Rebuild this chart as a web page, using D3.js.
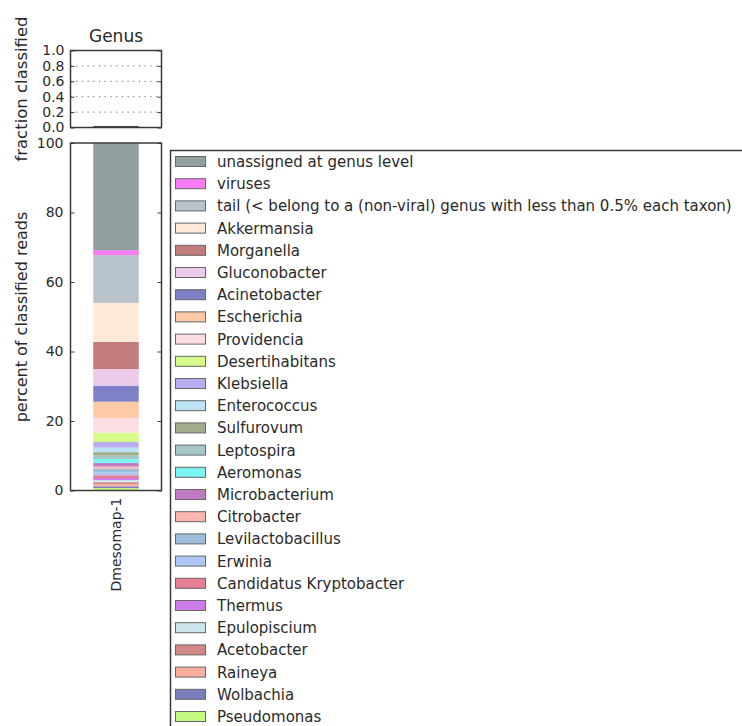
<!DOCTYPE html>
<html><head><meta charset="utf-8">
<script src="https://cdn.jsdelivr.net/npm/d3@7"></script>
<style>body{margin:0;background:#fff;} svg{display:block;font-family:"DejaVu Sans",sans-serif;}</style>
</head><body>
<svg id="c" width="742" height="726"></svg>
<script>
const samples = ["Dmesomap-1"];
const fractionClassified = [0.02];
const taxa = ["unassigned at genus level","viruses","tail (< belong to a (non-viral) genus with less than 0.5% each taxon)","Akkermansia","Morganella","Gluconobacter","Acinetobacter","Escherichia","Providencia","Desertihabitans","Klebsiella","Enterococcus","Sulfurovum","Leptospira","Aeromonas","Microbacterium","Citrobacter","Levilactobacillus","Erwinia","Candidatus Kryptobacter","Thermus","Epulopiscium","Acetobacter","Raineya","Wolbachia","Pseudomonas"];
const percents = [30.8,1.4,13.8,11.2,7.8,4.8,4.6,4.7,4.2,2.7,1.6,1.3,1.0,1.0,1.15,1.0,0.6,1.15,0.75,0.8,0.6,0.6,0.6,0.6,0.5,0.7];
const colors = ["#91a09f","#f77cf5","#b9c3cc","#ffe9d9","#c27c7b","#ebcaea","#7e80c8","#fccba5","#fddde4","#d7fb8b","#b9acf0","#bce3f3","#a3ad8c","#a7c6c6","#7ef5f5","#bf7cc3","#fab6ae","#9dbfdc","#adc8f5","#e87e94","#cd7ce8","#cde6ee","#d18888","#fcae9f","#7b7dbd","#c5fb83"];
const topTicks = [0.0,0.2,0.4,0.6,0.8,1.0];
const mainTicks = [0,20,40,60,80,100];

const svg = d3.select("#c");
const spine = "#3a3a3a";
const txt = "#2a2a2a";
const axL = 70.5, axR = 161.5;

// top panel
const ty = d3.scaleLinear().domain([0,1]).range([127.5,50.5]);
const tx = d3.scaleBand().domain(samples).range([axL,axR]).paddingInner(0).paddingOuter(0.5);
const topG = svg.append("g");
topTicks.forEach(t=>{
  if(t>0 && t<1) topG.append("line").attr("x1",axL).attr("x2",axR).attr("y1",ty(t)).attr("y2",ty(t))
    .attr("stroke","#666").attr("stroke-width",1).attr("stroke-dasharray","1.2,4.5");
});
topG.selectAll("rect.f").data(samples).enter().append("rect")
  .attr("x",d=>tx(d)).attr("width",tx.bandwidth())
  .attr("y",(d,i)=>ty(fractionClassified[i])).attr("height",(d,i)=>ty(0)-ty(fractionClassified[i]))
  .attr("fill","#4a4a4a");
const tl = topG.append("g").attr("transform",`translate(${axL},0)`)
  .call(d3.axisLeft(ty).tickValues(topTicks).tickFormat(d3.format(".1f")).tickSizeInner(-4).tickSizeOuter(0).tickPadding(6));
const tr = topG.append("g").attr("transform",`translate(${axR},0)`)
  .call(d3.axisRight(ty).tickValues(topTicks).tickFormat("").tickSizeInner(-4).tickSizeOuter(0));
[tl,tr].forEach(g=>{g.select(".domain").remove(); g.selectAll("line").attr("stroke",spine);
  g.selectAll("text").attr("font-size",14).attr("fill",txt).attr("font-family","DejaVu Sans");});
topG.append("rect").attr("x",axL).attr("y",50.5).attr("width",axR-axL).attr("height",77)
  .attr("fill","none").attr("stroke",spine).attr("stroke-width",1.5);
svg.append("text").attr("x",116).attr("y",42).attr("text-anchor","middle").attr("font-size",17).attr("fill",txt).text("Genus");
svg.append("text").attr("transform","translate(27,89) rotate(-90)").attr("text-anchor","middle").attr("font-size",16.5).attr("fill",txt).text("fraction classified");

// main panel
const y = d3.scaleLinear().domain([0,100]).range([490.5,143]);
const x = d3.scaleBand().domain(samples).range([axL,axR]).paddingInner(0).paddingOuter(0.5);
const stackRows = [Object.fromEntries(taxa.map((t,i)=>[t,percents[i]]))];
const series = d3.stack().keys(taxa.slice().reverse())(stackRows);
const mainG = svg.append("g");
series.forEach(s=>{
  const i = taxa.indexOf(s.key);
  mainG.append("rect").attr("x",x(samples[0])).attr("width",x.bandwidth())
    .attr("y",y(s[0][1])).attr("height",y(s[0][0])-y(s[0][1]))
    .attr("fill",colors[i]);
});
const ml = mainG.append("g").attr("transform",`translate(${axL},0)`)
  .call(d3.axisLeft(y).tickValues(mainTicks).tickSizeInner(-4).tickSizeOuter(0).tickPadding(7));
const mr = mainG.append("g").attr("transform",`translate(${axR},0)`)
  .call(d3.axisRight(y).tickValues(mainTicks).tickFormat("").tickSizeInner(-4).tickSizeOuter(0));
[ml,mr].forEach(g=>{g.select(".domain").remove(); g.selectAll("line").attr("stroke",spine);
  g.selectAll("text").attr("font-size",14).attr("fill",txt).attr("font-family","DejaVu Sans");});
mainG.append("rect").attr("x",axL).attr("y",143).attr("width",axR-axL).attr("height",347.5)
  .attr("fill","none").attr("stroke",spine).attr("stroke-width",1.5);
const xa = mainG.append("g").attr("transform",`translate(0,490.5)`)
  .call(d3.axisBottom(x).tickSize(0).tickPadding(0));
xa.select(".domain").remove();
xa.selectAll("text").attr("font-size",14).attr("fill",txt).attr("font-family","DejaVu Sans")
  .attr("text-anchor","end").attr("dy","0.35em").attr("transform","translate(0,7) rotate(-90)");
svg.append("text").attr("transform","translate(27,317) rotate(-90)").attr("text-anchor","middle").attr("font-size",16).attr("fill",txt).text("percent of classified reads");

// legend
const lg = svg.append("g");
lg.append("rect").attr("x",170.5).attr("y",150.5).attr("width",600).attr("height",600)
  .attr("fill","#fff").attr("stroke",spine).attr("stroke-width",1.5);
const ly = d3.scalePoint().domain(taxa).range([161.5,716.5]);
taxa.forEach((t,i)=>{
  lg.append("rect").attr("x",175.5).attr("y",ly(t)-5).attr("width",30).attr("height",10)
    .attr("fill",colors[i]).attr("stroke","#666").attr("stroke-width",1);
  lg.append("text").attr("x",217).attr("y",ly(t)).attr("dy","0.36em").attr("font-size",15)
    .attr("fill",txt).text(t);
});
</script>
</body></html>
